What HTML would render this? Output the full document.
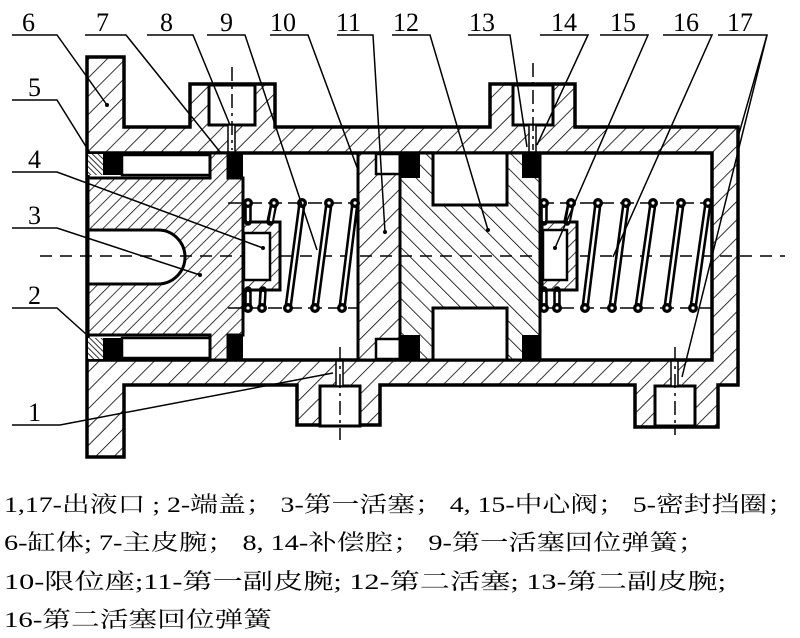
<!DOCTYPE html>
<html><head><meta charset="utf-8"><style>
html,body{margin:0;padding:0;background:#fff;}
svg{display:block;}
.t{font-family:"Liberation Serif","Noto Serif CJK SC",serif;fill:#000;}
</style></head><body>
<svg width="800" height="638" viewBox="0 0 800 638" xmlns="http://www.w3.org/2000/svg">
<defs>
<pattern id="h1" patternUnits="userSpaceOnUse" width="13" height="13" patternTransform="rotate(45)">
<rect width="13" height="13" fill="#fff"/><line x1="0" y1="0" x2="0" y2="13" stroke="#000" stroke-width="1.6"/></pattern>
<pattern id="h2" patternUnits="userSpaceOnUse" width="9" height="9" patternTransform="rotate(45)">
<rect width="9" height="9" fill="#fff"/><line x1="0" y1="0" x2="0" y2="9" stroke="#000" stroke-width="1.5"/></pattern>
<pattern id="h3" patternUnits="userSpaceOnUse" width="12" height="12" patternTransform="rotate(-45)">
<rect width="12" height="12" fill="#fff"/><line x1="0" y1="0" x2="0" y2="12" stroke="#000" stroke-width="1.6"/></pattern>
<pattern id="h4" patternUnits="userSpaceOnUse" width="4" height="4" patternTransform="rotate(-45)">
<rect width="4" height="4" fill="#fff"/><line x1="0" y1="0" x2="0" y2="4" stroke="#000" stroke-width="1.6"/></pattern>
</defs>

<path d="M87,57 L124,57 L124,127 L190,127 L190,84 L275,84 L275,127 L490,127 L490,84 L575,84 L575,127 L738,127 L738,385 L718,385 L718,427 L635,427 L635,385 L380,385 L380,425 L297,425 L297,385 L124,385 L124,457 L87,457 Z" fill="url(#h1)" stroke="#000" stroke-width="3.5"/>
<rect x="209" y="85" width="46" height="40" fill="#fff" stroke="#000" stroke-width="3"/>
<rect x="513" y="85" width="40" height="40" fill="#fff" stroke="#000" stroke-width="3"/>
<rect x="320" y="386" width="40" height="40" fill="#fff" stroke="#000" stroke-width="3"/>
<rect x="655" y="386" width="40" height="40" fill="#fff" stroke="#000" stroke-width="3"/>
<rect x="228" y="125" width="7" height="28" fill="#fff" stroke="#000" stroke-width="1.5"/>
<rect x="529" y="125" width="7" height="28" fill="#fff" stroke="#000" stroke-width="1.5"/>
<rect x="336" y="360" width="7" height="26" fill="#fff" stroke="#000" stroke-width="1.5"/>
<rect x="671" y="360" width="7" height="26" fill="#fff" stroke="#000" stroke-width="1.5"/>
<rect x="88" y="153" width="624" height="207" fill="#fff" stroke="#000" stroke-width="3.5"/>

<rect x="88" y="154" width="15" height="21" fill="url(#h4)"/>
<rect x="103" y="154" width="19" height="21" fill="#000"/>
<rect x="88" y="338" width="15" height="21" fill="url(#h4)"/>
<rect x="103" y="338" width="19" height="21" fill="#000"/>
<rect x="122" y="155" width="88" height="20" fill="#fff" stroke="#000" stroke-width="2.5"/>
<rect x="122" y="338" width="88" height="20" fill="#fff" stroke="#000" stroke-width="2.5"/>
<path d="M88,178 L210,178 L210,153 L228,153 L228,178 L243,178 L243,335 L228,335 L228,360 L210,360 L210,335 L88,335 Z" fill="url(#h2)" stroke="#000" stroke-width="3"/>
<path d="M88,230 L158,230 A27,27 0 0 1 158,284 L88,284 Z" fill="#fff" stroke="#000" stroke-width="3"/>
<rect x="228" y="153" width="15" height="25" fill="#000"/>
<rect x="228" y="335" width="15" height="25" fill="#000"/>

<rect x="358" y="153" width="42" height="207" fill="url(#h1)" stroke="#000" stroke-width="3"/>
<rect x="376" y="154" width="24" height="20" fill="#fff" stroke="#000" stroke-width="2.5"/>
<rect x="376" y="339" width="24" height="20" fill="#fff" stroke="#000" stroke-width="2.5"/>
<rect x="400" y="153" width="140" height="207" fill="url(#h3)" stroke="#000" stroke-width="3"/>
<rect x="433" y="153" width="74" height="52" fill="#fff" stroke="#000" stroke-width="3"/>
<rect x="433" y="308" width="74" height="52" fill="#fff" stroke="#000" stroke-width="3"/>
<rect x="400" y="153" width="20" height="25" fill="#000"/>
<rect x="400" y="335" width="20" height="25" fill="#000"/>
<rect x="522" y="153" width="18" height="25" fill="#000"/>
<rect x="522" y="335" width="18" height="25" fill="#000"/>

<g stroke="#000" stroke-width="1.5" fill="none">
<line x1="40" y1="256" x2="785" y2="256" stroke-dasharray="12,8"/>
<line x1="228" y1="203" x2="358" y2="203" stroke-dasharray="14,6"/>
<line x1="228" y1="308" x2="358" y2="308" stroke-dasharray="14,6"/>
<line x1="540" y1="203" x2="712" y2="203" stroke-dasharray="14,6"/>
<line x1="540" y1="308" x2="712" y2="308" stroke-dasharray="14,6"/>
<line x1="232" y1="67" x2="232" y2="150" stroke-dasharray="14,5,3,5"/>
<line x1="533" y1="63" x2="533" y2="150" stroke-dasharray="14,5,3,5"/>
<line x1="340" y1="347" x2="340" y2="440" stroke-dasharray="14,5,3,5"/>
<line x1="675" y1="347" x2="675" y2="435" stroke-dasharray="14,5,3,5"/>
</g>

<rect x="243" y="222" width="37" height="68" fill="url(#h2)" stroke="#000" stroke-width="3"/>
<rect x="244" y="233" width="26" height="47" fill="#fff" stroke="#000" stroke-width="2.5"/>
<rect x="542" y="222" width="35" height="68" fill="url(#h2)" stroke="#000" stroke-width="3"/>
<rect x="543" y="230" width="24" height="50" fill="#fff" stroke="#000" stroke-width="2.5"/>

<g stroke="#000" stroke-width="7.5" stroke-linecap="round" fill="none">
<line x1="302" y1="203" x2="288" y2="308"/>
<line x1="329" y1="203" x2="315" y2="308"/>
<line x1="355" y1="203" x2="342" y2="308"/>
<line x1="274" y1="203" x2="270" y2="222"/>
<line x1="248" y1="203" x2="248" y2="222"/>
<line x1="248" y1="290" x2="248" y2="308"/>
<line x1="263" y1="290" x2="262" y2="308"/>
<line x1="598" y1="203" x2="585" y2="308"/>
<line x1="626" y1="203" x2="612" y2="308"/>
<line x1="653" y1="203" x2="638" y2="308"/>
<line x1="681" y1="203" x2="667" y2="308"/>
<line x1="708" y1="203" x2="693" y2="308"/>
<line x1="571" y1="203" x2="567" y2="222"/>
<line x1="544" y1="203" x2="544" y2="222"/>
<line x1="544" y1="290" x2="544" y2="308"/>
<line x1="557" y1="290" x2="557" y2="308"/>
</g>
<g stroke="#fff" stroke-width="2.4" stroke-linecap="round" fill="none">
<line x1="302" y1="203" x2="288" y2="308"/>
<line x1="329" y1="203" x2="315" y2="308"/>
<line x1="355" y1="203" x2="342" y2="308"/>
<line x1="274" y1="203" x2="271" y2="220"/>
<line x1="248" y1="203" x2="248" y2="220"/>
<line x1="248" y1="293" x2="248" y2="308"/>
<line x1="263" y1="293" x2="262" y2="308"/>
<line x1="598" y1="203" x2="585" y2="308"/>
<line x1="626" y1="203" x2="612" y2="308"/>
<line x1="653" y1="203" x2="638" y2="308"/>
<line x1="681" y1="203" x2="667" y2="308"/>
<line x1="708" y1="203" x2="693" y2="308"/>
<line x1="571" y1="203" x2="568" y2="220"/>
<line x1="544" y1="203" x2="544" y2="220"/>
<line x1="544" y1="293" x2="544" y2="308"/>
<line x1="557" y1="293" x2="557" y2="308"/>
</g>
<g fill="#000" stroke="none">
<circle cx="248" cy="203" r="5"/><circle cx="274" cy="203" r="5"/><circle cx="302" cy="203" r="5"/><circle cx="329" cy="203" r="5"/><circle cx="355" cy="203" r="5"/>
<circle cx="248" cy="308" r="5"/><circle cx="262" cy="308" r="5"/><circle cx="288" cy="308" r="5"/><circle cx="315" cy="308" r="5"/><circle cx="342" cy="308" r="5"/>
<circle cx="544" cy="203" r="5"/><circle cx="571" cy="203" r="5"/><circle cx="598" cy="203" r="5"/><circle cx="626" cy="203" r="5"/><circle cx="653" cy="203" r="5"/><circle cx="681" cy="203" r="5"/><circle cx="708" cy="203" r="5"/>
<circle cx="544" cy="308" r="5"/><circle cx="557" cy="308" r="5"/><circle cx="585" cy="308" r="5"/><circle cx="612" cy="308" r="5"/><circle cx="638" cy="308" r="5"/><circle cx="667" cy="308" r="5"/><circle cx="693" cy="308" r="5"/>
</g>
<g fill="#fff" stroke="none">
<circle cx="248" cy="203" r="1.6"/><circle cx="274" cy="203" r="1.6"/><circle cx="302" cy="203" r="1.6"/><circle cx="329" cy="203" r="1.6"/><circle cx="355" cy="203" r="1.6"/>
<circle cx="248" cy="308" r="1.6"/><circle cx="262" cy="308" r="1.6"/><circle cx="288" cy="308" r="1.6"/><circle cx="315" cy="308" r="1.6"/><circle cx="342" cy="308" r="1.6"/>
<circle cx="544" cy="203" r="1.6"/><circle cx="571" cy="203" r="1.6"/><circle cx="598" cy="203" r="1.6"/><circle cx="626" cy="203" r="1.6"/><circle cx="653" cy="203" r="1.6"/><circle cx="681" cy="203" r="1.6"/><circle cx="708" cy="203" r="1.6"/>
<circle cx="544" cy="308" r="1.6"/><circle cx="557" cy="308" r="1.6"/><circle cx="585" cy="308" r="1.6"/><circle cx="612" cy="308" r="1.6"/><circle cx="638" cy="308" r="1.6"/><circle cx="667" cy="308" r="1.6"/><circle cx="693" cy="308" r="1.6"/>
</g>

<g stroke="#000" stroke-width="1.5" fill="none">
<polyline points="12,35 57,35 107,105"/>
<polyline points="85,35 126,35 220,152"/>
<polyline points="147,35 193,35 230,125"/>
<polyline points="207,35 245,35 317,250"/>
<polyline points="270,35 308,35 358,170"/>
<polyline points="337,35 373,35 385,232"/>
<polyline points="392,35 430,35 488,230"/>
<polyline points="468,35 510,35 527,147"/>
<polyline points="540,35 588,35 537,145"/>
<polyline points="600,35 648,35 555,248"/>
<polyline points="663,35 712,35 613,257"/>
<polyline points="718,35 767,35 682,377"/>
<line x1="767" y1="35" x2="738" y2="137"/>
<polyline points="12,100 57,100 90,153"/>
<polyline points="12,172 57,172 263,248"/>
<polyline points="12,228 57,228 200,275"/>
<polyline points="12,308 57,308 87,335"/>
<polyline points="12,425 60,425 333,373"/>
</g>
<g fill="#000">
<circle cx="107" cy="105" r="2"/><circle cx="263" cy="248" r="2"/><circle cx="200" cy="275" r="2"/>
<circle cx="385" cy="232" r="2"/><circle cx="488" cy="230" r="2"/><circle cx="555" cy="248" r="2"/>
</g>

<g class="t" font-size="26">
<text x="22" y="31">6</text>
<text x="96" y="31">7</text>
<text x="160" y="31">8</text>
<text x="220" y="31">9</text>
<text x="270" y="31">10</text>
<text x="336" y="31">11</text>
<text x="393" y="31">12</text>
<text x="469" y="31">13</text>
<text x="551" y="31">14</text>
<text x="610" y="31">15</text>
<text x="673" y="31">16</text>
<text x="727" y="31">17</text>
<text x="28" y="96">5</text>
<text x="28" y="168">4</text>
<text x="28" y="224">3</text>
<text x="28" y="304">2</text>
<text x="28" y="421">1</text>
</g>

<g class="t" font-size="22">
<text x="4" y="512" textLength="791" lengthAdjust="spacingAndGlyphs">1,17-出液口 ; 2-端盖；  3-第一活塞；  4, 15-中心阀；  5-密封挡圈；</text>
<text x="4" y="550" textLength="702" lengthAdjust="spacingAndGlyphs">6-缸体; 7-主皮腕；  8, 14-补偿腔；  9-第一活塞回位弹簧；</text>
<text x="4" y="589" textLength="722" lengthAdjust="spacingAndGlyphs">10-限位座;11-第一副皮腕; 12-第二活塞; 13-第二副皮腕;</text>
<text x="4" y="627" textLength="268" lengthAdjust="spacingAndGlyphs">16-第二活塞回位弹簧</text>
</g>
</svg>
</body></html>
